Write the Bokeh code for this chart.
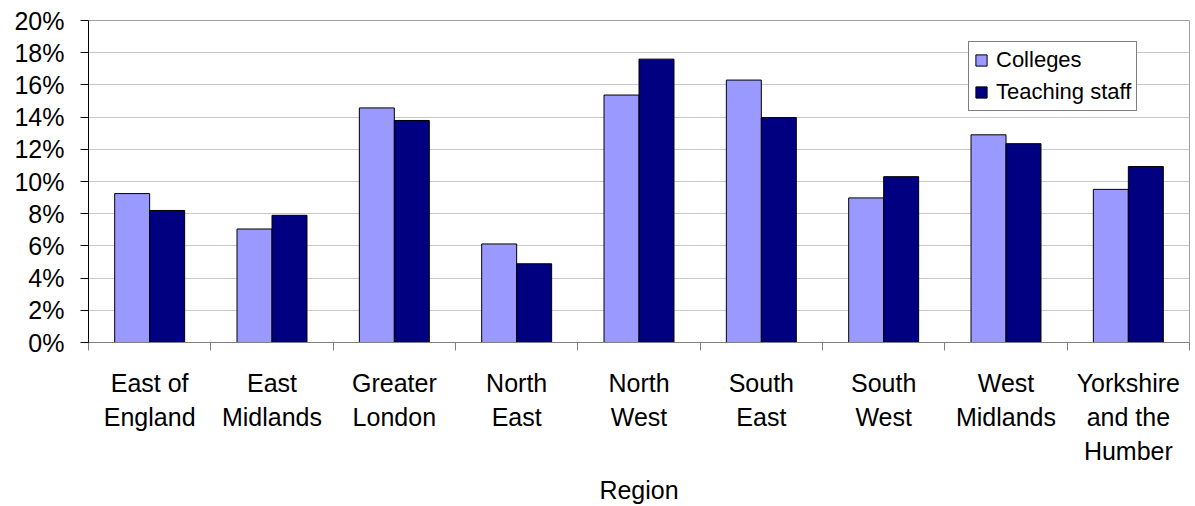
from bokeh.plotting import figure
from bokeh.models import (ColumnDataSource, Range1d, FixedTicker, NumeralTickFormatter,
                          Legend, LegendItem)
from bokeh.transform import dodge
from bokeh.embed import file_html
from bokeh.resources import INLINE

regions = ["East of\nEngland", "East\nMidlands", "Greater\nLondon", "North\nEast",
           "North\nWest", "South\nEast", "South\nWest", "West\nMidlands",
           "Yorkshire\nand the\nHumber"]
colleges = [0.0925, 0.0705, 0.1457, 0.0612, 0.1537, 0.1630, 0.0898, 0.1290, 0.0951]
teaching_staff = [0.0820, 0.0790, 0.1379, 0.0489, 0.1760, 0.1397, 0.1030, 0.1235, 0.1093]
y_ticks = [0.00, 0.02, 0.04, 0.06, 0.08, 0.10, 0.12, 0.14, 0.16, 0.18, 0.20]

FONT = "Liberation Sans"
n = len(regions)
centers = [i + 0.5 for i in range(n)]
src = ColumnDataSource(dict(x=centers, colleges=colleges, staff=teaching_staff))

p = figure(width=1195, height=506, output_backend="svg", toolbar_location=None,
           x_range=Range1d(0, n), y_range=Range1d(0, 0.20),
           min_border_left=88, min_border_right=6, min_border_top=20, min_border_bottom=161)
p.background_fill_color = "white"
p.border_fill_color = "white"
p.outline_line_color = "#A0A0A0"

bw = 0.286
r1 = p.vbar(x=dodge("x", -bw / 2, range=p.x_range), top="colleges", width=bw, source=src,
            fill_color="#9999FF", line_color="black", line_width=1)
r2 = p.vbar(x=dodge("x", bw / 2, range=p.x_range), top="staff", width=bw, source=src,
            fill_color="#000080", line_color="black", line_width=1)

# x axis
xa = p.xaxis[0]
xa.ticker = FixedTicker(ticks=centers, minor_ticks=list(range(n + 1)))
xa.major_label_overrides = {c: lab for c, lab in zip(centers, regions)}
xa.major_tick_out = 0
xa.major_tick_in = 0
xa.minor_tick_out = 8
xa.minor_tick_in = 0
xa.minor_tick_line_color = "#808080"
xa.axis_line_color = "#808080"
xa.major_label_text_font = FONT
xa.major_label_text_font_size = "25px"
xa.major_label_text_color = "black"
xa.major_label_text_line_height = 1.22
xa.major_label_standoff = 18
xa.axis_label = "Region"
xa.axis_label_text_font = FONT
xa.axis_label_text_font_size = "25px"
xa.axis_label_text_font_style = "normal"
xa.axis_label_text_color = "black"
xa.axis_label_standoff = 8

# y axis
ya = p.yaxis[0]
ya.ticker = FixedTicker(ticks=y_ticks, minor_ticks=[])
ya.formatter = NumeralTickFormatter(format="0%")
ya.major_tick_out = 8
ya.major_tick_in = 0
ya.major_tick_line_color = "black"
ya.axis_line_color = "black"
ya.major_label_text_font = FONT
ya.major_label_text_font_size = "25px"
ya.major_label_text_color = "black"
ya.major_label_standoff = 16

p.xgrid.visible = False
p.ygrid.grid_line_color = "#C8C8C8"
p.ygrid.grid_line_width = 1

legend = Legend(items=[LegendItem(label="Colleges", renderers=[r1]),
                       LegendItem(label="Teaching staff", renderers=[r2])],
                location=(880, 231))
legend.label_text_font = FONT
legend.label_text_font_size = "22px"
legend.label_text_color = "black"
legend.glyph_width = 14
legend.glyph_height = 14
legend.label_height = 26
legend.label_standoff = 8
legend.spacing = 6
legend.padding = 5
legend.margin = 0
legend.border_line_color = "black"
legend.border_line_width = 1
legend.background_fill_color = "white"
legend.background_fill_alpha = 1
p.add_layout(legend)

open("out.html", "w").write(file_html(p, INLINE))
